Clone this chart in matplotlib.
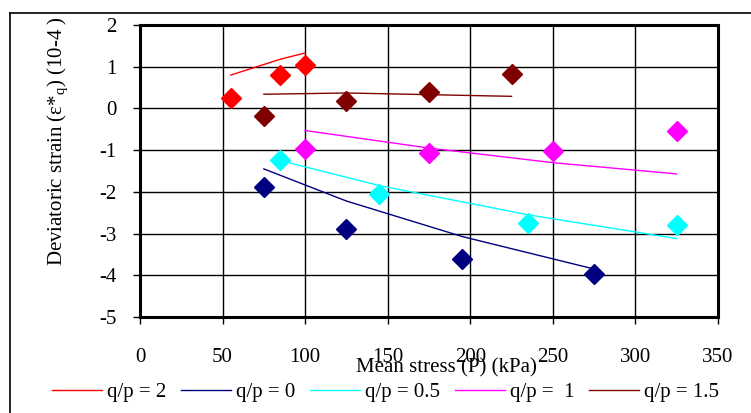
import matplotlib.pyplot as plt
from matplotlib.lines import Line2D

plt.rcParams['font.family'] = ['Liberation Serif', 'DejaVu Serif']
plt.rcParams['mathtext.fontset'] = 'custom'
plt.rcParams['mathtext.rm'] = 'Liberation Serif'
plt.rcParams['axes.unicode_minus'] = False

# measured points (diamonds)
p_2 = [55, 85, 100]
e_2 = [0.25, 0.8, 1.05]
p_0 = [75, 125, 195, 275]
e_0 = [-1.88, -2.9, -3.62, -3.98]
p_05 = [85, 145, 235, 325]
e_05 = [-1.23, -2.05, -2.75, -2.8]
p_1 = [100, 175, 250, 325]
e_1 = [-0.97, -1.07, -1.02, -0.53]
p_15 = [75, 125, 175, 225]
e_15 = [-0.17, 0.17, 0.4, 0.82]

# model lines
fit_2 = [0.8, 1.18, 1.33]
fit_0 = [-1.45, -2.22, -3.07, -3.85]
fit_05 = [-1.25, -1.85, -2.55, -3.12]
fit_1 = [-0.53, -0.95, -1.3, -1.57]
fit_15 = [0.34, 0.37, 0.33, 0.29]

series = [
    ("q/p = 2", p_2, e_2, fit_2, "#ff0000"),
    ("q/p = 0", p_0, e_0, fit_0, "#000080"),
    ("q/p = 0.5", p_05, e_05, fit_05, "#00ffff"),
    ("q/p =  1", p_1, e_1, fit_1, "#ff00ff"),
    ("q/p = 1.5", p_15, e_15, fit_15, "#800000"),
]

W, H = 751, 413
fs = 15

fig = plt.figure(figsize=(W / 100, H / 100), dpi=100)
ax = fig.add_axes([140 / W, 1 - 317 / H, 578 / W, 292 / H])

handles = []
for name, x, y, fit, c in series:
    h, = ax.plot(x, fit, color=c, lw=1)
    ax.plot(x, y, linestyle="none", marker="D", ms=10, color=c, mec=c)
    handles.append(h)

ax.set_xlim(0, 350)
ax.set_ylim(-5, 2)
ax.set_xticks(range(0, 351, 50))
ax.set_yticks(range(-5, 3))
ax.grid(True, color="black", lw=1)
for s in ax.spines.values():
    s.set_linewidth(2.2)
ax.tick_params(axis="x", direction="out", length=5, width=1, labelsize=fs, pad=17)
ax.tick_params(axis="y", direction="out", length=5, width=1, labelsize=fs, pad=12)

fig.text(446 / W, 1 - 368 / H, "Mean stress (P) (kPa)", fontsize=fs, ha="center", va="center")
fig.text(58 / W, 1 - 141 / H, "Deviatoric strain (ε*$_{\\rm q}$) (10-4 )",
         fontsize=fs, rotation=90, ha="center", va="center")

fig.legend(handles, [s[0] for s in series], loc="center left",
           bbox_to_anchor=(52 / W, 1 - 392 / H), ncol=5, frameon=False, fontsize=fs,
           handlelength=2.4, columnspacing=0.7, handletextpad=0.25,
           borderaxespad=0, borderpad=0)

# outer chart frame (cropped on right/bottom)
fig.add_artist(Line2D([10 / W, 10 / W], [0, 1 - 13 / H], color="black", lw=1.2))
fig.add_artist(Line2D([10 / W, 1], [1 - 13 / H, 1 - 13 / H], color="black", lw=1.2))

fig.savefig("out.png", dpi=100)
